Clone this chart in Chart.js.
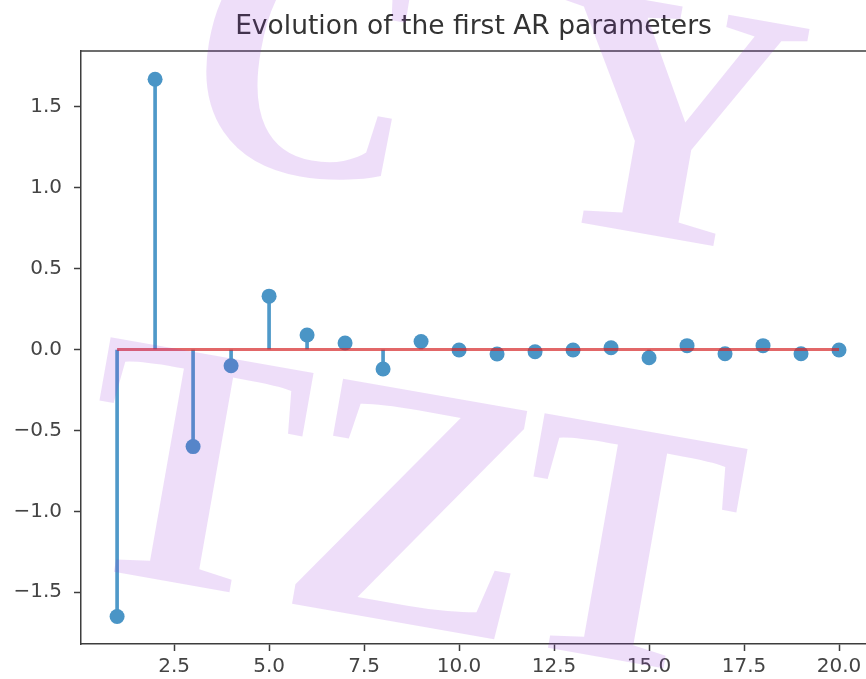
<!DOCTYPE html>
<html>
<head>
<meta charset="utf-8">
<title>Evolution of the first AR parameters</title>
<script src="https://cdn.jsdelivr.net/npm/chart.js@4.4.1/dist/chart.umd.min.js"></script>
<style>
  html, body { margin: 0; padding: 0; background: #ffffff; overflow: hidden; }
  #wrap { width: 866px; height: 679px; position: relative; }
</style>
</head>
<body>
<div id="wrap"><canvas id="chart" width="866" height="679"></canvas></div>
<script>
// AR lag index and the fitted coefficient for each lag
const lags = [1, 2, 3, 4, 5, 6, 7, 8, 9, 10, 11, 12, 13, 14, 15, 16, 17, 18, 19, 20];
const arParams = [-1.65, 1.67, -0.60, -0.10, 0.33, 0.09, 0.04, -0.12, 0.05, -0.003,
                  -0.028, -0.014, -0.003, 0.011, -0.051, 0.024, -0.026, 0.024, -0.026, -0.003];

// axis ticks
const xTickValues = [2.5, 5, 7.5, 10, 12.5, 15, 17.5, 20];
const xTickLabels = ['2.5', '5.0', '7.5', '10.0', '12.5', '15.0', '17.5', '20.0'];
const yTickValues = [-1.5, -1.0, -0.5, 0.0, 0.5, 1.0, 1.5];
const yTickLabels = ['\u22121.5', '\u22121.0', '\u22120.5', '0.0', '0.5', '1.0', '1.5'];

const titleText = 'Evolution of the first AR parameters';

// watermark letters: glyph, baseline-centre anchor in canvas pixels, horizontal stretch
const watermark = [
  { text: 'C', x: 289, y: 171, sx: 0.92 },
  { text: 'Y', x: 645, y: 234, sx: 1.05 },
  { text: 'T', x: 172, y: 582, sx: 0.92 },
  { text: 'Z', x: 396, y: 622, sx: 1.05 },
  { text: 'T', x: 606, y: 658, sx: 0.92 }
];

const FONT = "'DejaVu Sans', sans-serif";
const AXIS_COLOR = '#3d3d3d';
const TEXT_COLOR = '#444444';

const stemData = lags.map((x, i) => ({ x: x, y: [0, arParams[i]] }));
const headData = lags.map((x, i) => ({ x: x, y: arParams[i] }));
const baseData = [{ x: lags[0], y: 0 }, { x: lags[lags.length - 1], y: 0 }];

// top spine of the axes box
const frameTop = {
  id: 'frameTop',
  afterDatasetsDraw(chart) {
    const a = chart.chartArea;
    const ctx = chart.ctx;
    ctx.save();
    ctx.strokeStyle = AXIS_COLOR;
    ctx.lineWidth = 1.5;
    ctx.beginPath();
    ctx.moveTo(a.left, a.top);
    ctx.lineTo(a.right, a.top);
    ctx.stroke();
    ctx.restore();
  }
};

// translucent lettering laid over the whole canvas
const watermarkPlugin = {
  id: 'watermark',
  afterDraw(chart) {
    const ctx = chart.ctx;
    ctx.save();
    ctx.fillStyle = 'rgba(150, 50, 220, 0.16)';
    ctx.font = "bold 352px 'Liberation Serif', serif";
    ctx.textAlign = 'center';
    ctx.textBaseline = 'alphabetic';
    watermark.forEach(w => {
      ctx.save();
      ctx.translate(w.x, w.y);
      ctx.rotate(10 * Math.PI / 180);
      ctx.scale(w.sx, 1);
      ctx.fillText(w.text, 0, 0);
      ctx.restore();
    });
    ctx.restore();
  }
};

new Chart(document.getElementById('chart'), {
  type: 'bar',
  data: {
    datasets: [
      {
        type: 'line',
        label: 'baseline',
        data: baseData,
        borderColor: 'rgba(214, 39, 40, 0.7)',
        borderWidth: 3,
        pointRadius: 0,
        fill: false
      },
      {
        type: 'scatter',
        label: 'coefficients',
        data: headData,
        backgroundColor: '#4a95c6',
        borderWidth: 0,
        pointRadius: 7.5,
        pointHoverRadius: 7.5
      },
      {
        type: 'bar',
        label: 'stems',
        data: stemData,
        backgroundColor: '#4f99c9',
        borderWidth: 0,
        barThickness: 3
      }
    ]
  },
  options: {
    responsive: false,
    animation: false,
    layout: { padding: 0, autoPadding: false },
    plugins: {
      legend: { display: false },
      tooltip: { enabled: false },
      title: {
        display: true,
        text: titleText,
        fullSize: false,
        color: '#333333',
        font: { family: FONT, size: 26.5, weight: 'normal', lineHeight: 1.2 },
        padding: { top: 11, bottom: 8.2 }
      }
    },
    scales: {
      x: {
        type: 'linear',
        offset: false,
        min: 0.05,
        max: 20.71,
        afterBuildTicks(scale) { scale.ticks = xTickValues.map(v => ({ value: v })); },
        afterFit(scale) {
          scale.height = 35;
          scale.paddingLeft = 0;
          scale.paddingRight = 0;
        },
        ticks: {
          callback: (v, i) => xTickLabels[i],
          color: TEXT_COLOR,
          font: { family: FONT, size: 20 },
          padding: 4,
          maxRotation: 0,
          autoSkip: false
        },
        grid: { offset: false, drawOnChartArea: false, drawTicks: true, tickLength: 7, tickWidth: 1.5, tickColor: AXIS_COLOR },
        border: { display: true, color: AXIS_COLOR, width: 1.5 }
      },
      y: {
        type: 'linear',
        min: -1.82,
        max: 1.845,
        afterBuildTicks(scale) { scale.ticks = yTickValues.map(v => ({ value: v })); },
        afterFit(scale) {
          scale.width = 81;
          scale.paddingTop = 0;
          scale.paddingBottom = 0;
        },
        ticks: {
          callback: (v, i) => yTickLabels[i],
          color: TEXT_COLOR,
          font: { family: FONT, size: 20 },
          padding: 12,
          autoSkip: false
        },
        grid: { drawOnChartArea: false, drawTicks: true, tickLength: 7, tickWidth: 1.5, tickColor: AXIS_COLOR },
        border: { display: true, color: AXIS_COLOR, width: 1.5 }
      }
    }
  },
  plugins: [frameTop, watermarkPlugin]
});
</script>
</body>
</html>
